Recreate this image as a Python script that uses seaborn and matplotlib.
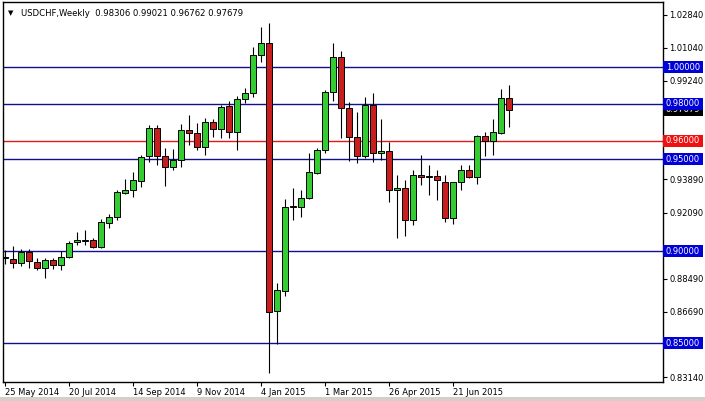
import matplotlib
matplotlib.use("Agg")
import matplotlib.pyplot as plt
import matplotlib.transforms as mtransforms
from matplotlib.patches import Rectangle
import seaborn as sns
import numpy as np
import pandas as pd

sns.set_theme(style="white")
plt.rcParams['font.family'] = ['DejaVu Sans']

# ---------------- data ----------------
opens = [0.8962, 0.8957, 0.8935, 0.8995, 0.8940, 0.8908, 0.8951, 0.8924, 0.8967, 0.9049,
         0.9054, 0.9060, 0.9022, 0.9152, 0.9185, 0.9315, 0.9332, 0.9380, 0.9516, 0.9668,
         0.9516, 0.9457, 0.9495, 0.9658, 0.9641, 0.9565, 0.9701, 0.9663, 0.9788, 0.9647,
         0.9826, 0.9859, 1.0065, 1.0130, 0.8674, 0.8783, 0.9239, 0.9239, 0.9288, 0.9424,
         0.9549, 0.9864, 1.0054, 0.9777, 0.9620, 0.9516, 0.9793, 0.9533, 0.9543, 0.9332,
         0.9342, 0.9168, 0.9413, 0.9402, 0.9408, 0.9375, 0.9179, 0.9375, 0.9440, 0.9402,
         0.9625, 0.9598, 0.9641, 0.98306]
highs = [0.9005, 0.9027, 0.9011, 0.9011, 0.8962, 0.8962, 0.8962, 0.9000, 0.9054, 0.9103,
         0.9114, 0.9071, 0.9174, 0.9201, 0.9332, 0.9391, 0.9429, 0.9522, 0.9685, 0.9685,
         0.9560, 0.9554, 0.9690, 0.9739, 0.9696, 0.9723, 0.9717, 0.9793, 0.9815, 0.9842,
         0.9886, 1.0109, 1.0217, 1.0239, 0.8826, 0.9283, 0.9342, 0.9332, 0.9533, 0.9560,
         0.9875, 1.0130, 1.0087, 0.9810, 0.9755, 0.9837, 0.9859, 0.9717, 0.9592, 0.9413,
         0.9386, 0.9440, 0.9522, 0.9467, 0.9440, 0.9413, 0.9359, 0.9467, 0.9467, 0.9630,
         0.9647, 0.9717, 0.9880, 0.99021]
lows = [0.8929, 0.8908, 0.8918, 0.8908, 0.8897, 0.8853, 0.8902, 0.8897, 0.8962, 0.9033,
        0.9033, 0.9016, 0.9016, 0.9125, 0.9168, 0.9310, 0.9293, 0.9348, 0.9484, 0.9467,
        0.9353, 0.9440, 0.9457, 0.9576, 0.9549, 0.9522, 0.9620, 0.9614, 0.9614, 0.9549,
        0.9804, 0.9837, 1.0027, 0.8337, 0.8495, 0.8755, 0.9168, 0.9185, 0.9283, 0.9418,
        0.9533, 0.9815, 0.9614, 0.9489, 0.9478, 0.9505, 0.9484, 0.9495, 0.9266, 0.9071,
        0.9082, 0.9141, 0.9359, 0.9304, 0.9277, 0.9158, 0.9147, 0.9332, 0.9397, 0.9364,
        0.9516, 0.9522, 0.9636, 0.96762]
closes = [0.8967, 0.8935, 0.8995, 0.8946, 0.8908, 0.8951, 0.8924, 0.8967, 0.9043, 0.9060,
          0.9060, 0.9022, 0.9158, 0.9185, 0.9321, 0.9332, 0.9386, 0.9511, 0.9668, 0.9516,
          0.9457, 0.9495, 0.9658, 0.9641, 0.9565, 0.9701, 0.9663, 0.9783, 0.9647, 0.9826,
          0.9859, 1.0065, 1.0130, 0.8668, 0.8788, 0.9239, 0.9245, 0.9288, 0.9429, 0.9549,
          0.9864, 1.0054, 0.9777, 0.9620, 0.9516, 0.9793, 0.9533, 0.9543, 0.9332, 0.9342,
          0.9168, 0.9413, 0.9402, 0.9408, 0.9386, 0.9179, 0.9375, 0.9440, 0.9402, 0.9625,
          0.9598, 0.9647, 0.9832, 0.97679]

date_labels = ["25 May 2014", "20 Jul 2014", "14 Sep 2014", "9 Nov 2014",
               "4 Jan 2015", "1 Mar 2015", "26 Apr 2015", "21 Jun 2015"]
axis_ticks = [1.02840, 1.01040, 0.99240, 0.93890, 0.92090, 0.88490, 0.86690, 0.83140]
blue_levels = [1.00000, 0.98000, 0.95000, 0.90000, 0.85000]
red_levels = [0.96000]
symbol = "USDCHF,Weekly"

df = pd.DataFrame({"open": opens, "high": highs, "low": lows, "close": closes})
df["idx"] = np.arange(len(df))
df["bull"] = df["close"] >= df["open"]

# ---------------- layout ----------------
W, H = 705, 401
FS = 6.0
fig = plt.figure(figsize=(W / 100, H / 100), dpi=100, facecolor="white")
L, R, T, B = 2.5, 662.5, 1.5, 381.5
ax = fig.add_axes([L / W, 1 - B / H, (R - L) / W, (B - T) / H])
ax.set_facecolor("white")

px_per_unit = 1840.0
y_top = 1.0 + (67 - T) / px_per_unit
y_bot = 1.0 - (B - 67) / px_per_unit
ax.set_ylim(y_bot, y_top)
ax.set_xlim((L - 5) / 8.0, (R - 5) / 8.0)

NAVY = "#10108a"
GREEN = "#33cc33"
RED = "#c81e1e"

for lv in blue_levels:
    ax.axhline(lv, color=NAVY, lw=1.0, zorder=1)
for lv in red_levels:
    ax.axhline(lv, color="#e01818", lw=1.0, zorder=1)

# wicks
ax.vlines(df["idx"], df["low"], df["high"], color="black", lw=0.8, zorder=2)
# bodies
bw = 0.68
for bull, color in [(True, GREEN), (False, RED)]:
    sub = df[df["bull"] == bull]
    bottoms = np.minimum(sub["open"], sub["close"])
    heights = np.abs(sub["close"] - sub["open"])
    heights = np.maximum(heights, 0.00035)
    ax.bar(sub["idx"], heights, bottom=bottoms, width=bw, color=color,
           edgecolor="black", linewidth=0.7, zorder=3)

# spines
for s in ["left", "top", "right", "bottom"]:
    ax.spines[s].set_visible(True)
    ax.spines[s].set_color("black")
    ax.spines[s].set_linewidth(1.0)

# y axis on right
ax.yaxis.tick_right()
ax.set_yticks(axis_ticks)
ax.set_yticklabels([f"{v:.5f}" for v in axis_ticks])
ax.tick_params(axis="y", right=True, left=False, length=3, width=0.8, pad=2,
               labelsize=FS, colors="black", direction="out")
ax.grid(False)

# x ticks
xt = [8 * i for i in range(len(date_labels))]
ax.set_xticks(xt)
ax.set_xticklabels(date_labels, ha="left")
ax.tick_params(axis="x", bottom=True, length=3, width=0.8, pad=2,
               labelsize=FS, colors="black", direction="out")
for lab in ax.get_xticklabels():
    lab.set_horizontalalignment("left")
ax.set_xlabel("")
ax.set_ylabel("")

# price label boxes on the right
trans = mtransforms.blended_transform_factory(ax.transAxes, ax.transData)
box_w = 40.0 / (R - L)
box_h = 12.0 / px_per_unit


def price_box(val, fc, z):
    rect = Rectangle((1.0 + 0.5 / (R - L), val - box_h / 2), box_w, box_h,
                     transform=trans, facecolor=fc, edgecolor="none",
                     clip_on=False, zorder=z)
    ax.add_patch(rect)
    ax.text(1.0 + 3.5 / (R - L), val, f"{val:.5f}", transform=trans,
            color="white", fontsize=FS, va="center", ha="left",
            clip_on=False, zorder=z + 0.1)


price_box(closes[-1], "black", 10)
for lv in blue_levels:
    price_box(lv, "#0000d8", 11)
for lv in red_levels:
    price_box(lv, "#f01010", 11)

# header text
fig.text(8 / W, 1 - 13 / H, "\u25BC", fontsize=5, color="black", va="center", ha="left")
header = f"{symbol}  {opens[-1]:.5f} {highs[-1]:.5f} {lows[-1]:.5f} {closes[-1]:.5f}"
fig.text(21 / W, 1 - 13 / H, header, fontsize=6.1, color="black", va="center", ha="left")

# window frame (bottom gray band)
fig.patches.append(Rectangle((0, 0), 1, 4 / H, transform=fig.transFigure,
                             facecolor="#d4d0c8", edgecolor="none", zorder=0))

fig.savefig("out.png", dpi=100, facecolor="white")
